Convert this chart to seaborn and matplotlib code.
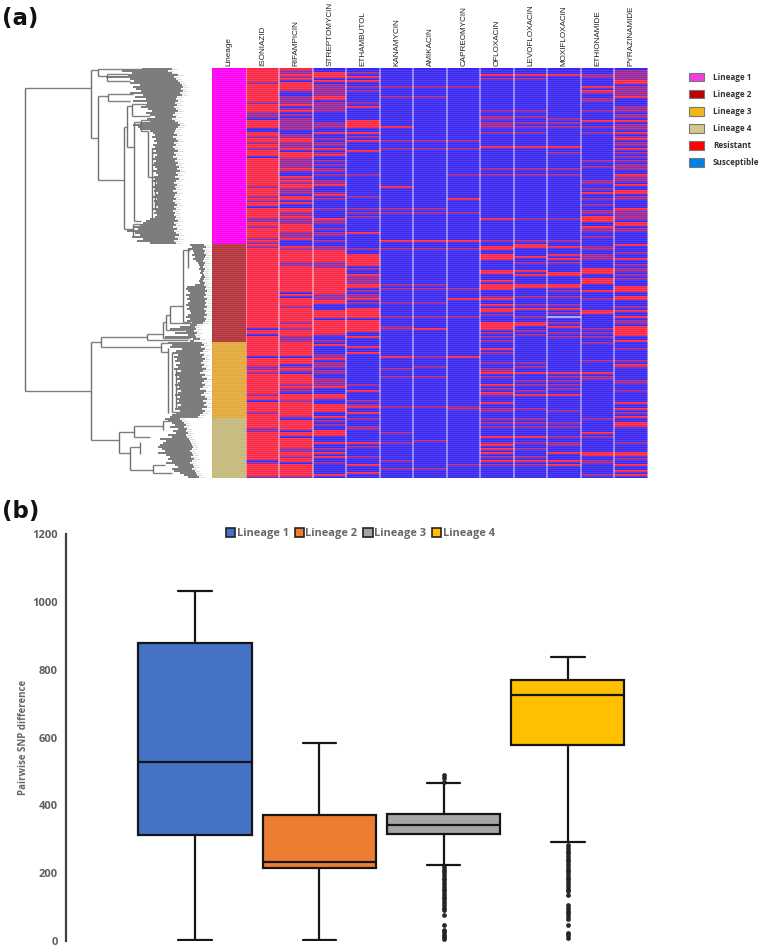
import numpy as np
import pandas as pd
import matplotlib
matplotlib.use("Agg")
import matplotlib.pyplot as plt
from matplotlib.colors import ListedColormap, LinearSegmentedColormap
from matplotlib.patches import Patch
import seaborn as sns

sns.set_theme(style="white")

FIG_W, FIG_H = 760, 947
N_ROWS = 205

drugs = ["ISONIAZID", "RIFAMPICIN", "STREPTOMYCIN", "ETHAMBUTOL", "KANAMYCIN", "AMIKACIN",
         "CAPREOMYCIN", "OFLOXACIN", "LEVOFLOXACIN", "MOXIFLOXACIN", "ETHIONAMIDE", "PYRAZINAMIDE"]

# rows per lineage, top to bottom
lineage_rows = [88, 49, 38, 30]

# mostly resistant drugs: rows clearly susceptible / rows blended
iso_sus = [25, 30, 31, 44, 69, 130, 133, 144, 166, 196]
iso_mix = [7, 17, 22, 23, 24, 34, 37, 40, 59, 64, 66, 75, 76, 79, 85, 87, 89, 149, 150, 152, 163, 172, 180, 181, 197, 204]
rif_sus = [6, 12, 13, 19, 22, 24, 31, 32, 41, 52, 53, 63, 66, 68, 69, 86, 87, 88, 112, 114, 144, 148, 152, 162, 175, 181, 184, 197]
rif_mix = [1, 2, 4, 11, 14, 15, 16, 17, 20, 23, 25, 26, 27, 28, 29, 30, 33, 34, 37, 38, 39, 45, 46, 47, 48, 49, 51, 55, 57, 60, 61, 62,
           72, 73, 75, 76, 77, 82, 83, 84, 90, 97, 98, 119, 127, 130, 134, 135, 136, 149, 151, 158, 160, 161, 166, 174, 190, 191, 194, 204]

# mostly susceptible drugs: rows clearly resistant / rows blended
str_res = [2, 3, 4, 6, 14, 15, 32, 40, 43, 58, 63, 75, 91, 92, 93, 94, 95, 96, 100, 101, 102, 103, 104, 105, 106, 107, 108, 109, 110, 111, 112,
           116, 117, 121, 122, 123, 124, 126, 127, 128, 129, 130, 131, 132, 138, 145, 159, 163, 164, 168, 169, 170, 171, 174, 181, 182, 183, 187, 192, 194, 203]
str_mix = [8, 9, 10, 11, 12, 13, 17, 18, 19, 20, 21, 27, 28, 29, 35, 37, 38, 42, 46, 48, 50, 51, 53, 56, 57, 62, 65, 70, 76, 77, 80, 82, 83, 86, 89, 90,
           97, 98, 99, 113, 114, 115, 133, 136, 143, 144, 147, 148, 149, 151, 152, 155, 156, 157, 158, 165, 176, 178, 190, 197]
emb_res = [4, 6, 19, 26, 27, 28, 29, 32, 36, 41, 82, 93, 94, 95, 96, 97, 98, 103, 108, 109, 115, 120, 121, 122, 123, 124, 126, 127, 128, 129, 130, 131, 134,
           139, 142, 161, 169, 172, 187, 198, 202]
emb_mix = [2, 9, 11, 17, 34, 53, 64, 70, 72, 74, 90, 100, 104, 105, 106, 107, 111, 113, 114, 117, 158, 166, 168, 175, 179, 180, 189, 194]
kan_res = [29, 59, 86, 144]
kan_mix = [9, 14, 36, 40, 70, 72, 90, 108, 110, 117, 124, 129, 130, 150, 154, 169, 182, 187, 196, 200]
ami_res = [86, 130]
ami_mix = [9, 14, 36, 40, 70, 72, 90, 108, 110, 117, 124, 144, 149, 154, 169, 186, 200]
cap_res = [65, 86, 115, 144]
cap_mix = [9, 36, 40, 53, 72, 90, 110, 124, 169, 170, 198]
ofl_res = [3, 39, 75, 89, 90, 93, 94, 95, 101, 102, 106, 108, 109, 110, 115, 118, 120, 121, 127, 128, 129, 130, 140, 152, 158, 162, 167, 184, 188, 190, 192, 196]
ofl_mix = [5, 21, 24, 25, 27, 28, 29, 32, 50, 53, 86, 114, 123, 132, 134, 136, 142, 147, 150, 151, 154, 160, 163, 170, 171, 175, 177, 179, 187, 194, 198]
lev_res = [3, 39, 88, 89, 94, 101, 103, 108, 109, 120, 127, 128, 152, 163, 184, 196]
lev_mix = [5, 21, 24, 27, 29, 32, 50, 53, 75, 86, 97, 114, 118, 124, 131, 133, 147, 149, 156, 158, 161, 170, 175, 177, 179, 187, 190, 194, 198]
mox_res = [3, 39, 89, 93, 95, 102, 103, 108, 109, 120, 129, 152, 163, 192, 196, 198]
mox_mix = [25, 27, 29, 42, 50, 53, 75, 86, 97, 111, 114, 118, 122, 127, 132, 134, 154, 156, 158, 160, 171, 177, 179, 184, 187, 188]
mox_untested = [124]
eto_res = [9, 11, 26, 62, 74, 75, 76, 79, 100, 101, 102, 105, 106, 107, 111, 121, 122, 152, 182, 192, 193]
eto_mix = [3, 4, 12, 15, 16, 21, 29, 32, 46, 49, 56, 57, 60, 65, 68, 71, 72, 80, 81, 84, 89, 90, 93, 94, 95, 115, 130, 132, 134, 137, 146, 154, 155, 175, 184, 196, 197, 203]
pza_res = [6, 7, 14, 26, 32, 35, 40, 53, 58, 61, 62, 70, 77, 78, 88, 95, 109, 110, 111, 114, 115, 121, 124, 129, 130, 131, 132, 133, 136, 148, 167, 170, 174, 177, 178,
           192, 193, 198, 201, 203]
pza_mix = [1, 2, 3, 4, 5, 9, 10, 11, 12, 13, 19, 20, 21, 23, 24, 28, 29, 30, 34, 37, 38, 42, 44, 46, 48, 49, 50, 54, 55, 56, 64, 65, 71, 72, 73, 74, 75, 80, 81, 92, 98,
           100, 101, 103, 105, 119, 126, 127, 140, 146, 149, 156, 157, 161, 172, 179, 187, 195]

# tree: horizontal branches (depth from, depth to, row), vertical branches (depth, row from, row to)
h_branches = [(25, 91, 10), (25, 91, 161.3), (91, 98, 1), (98, 142, 0.5), (98, 106.7, 3.8), (106.7, 128, 3), (106.7, 130, 6.3),
              (91, 98, 35), (98, 107.7, 14), (107.7, 133, 13), (107.7, 130, 16.7), (98, 124.3, 55.8), (124.3, 126.7, 29.7),
              (126.7, 131.7, 19), (131.7, 146, 18), (131.7, 150, 24), (126.7, 134, 39.7), (134, 141, 27), (141, 150, 26), (141, 148.3, 31.5),
              (134, 141, 76.3), (148.3, 155, 54.6), (124.3, 133, 80.5), (133, 140, 78), (133, 136, 84),
              (91, 100.7, 137), (91, 119, 185.8), (100.7, 147, 134.5), (100.7, 160.7, 139.3), (147, 163, 133), (147, 188, 136),
              (163, 165.7, 126.8), (163, 190, 135), (165.7, 170, 123.5), (165.7, 185, 131), (170, 182.7, 118.8), (170, 192, 127.5),
              (182.7, 190, 91), (182.7, 190, 126.8), (160.7, 168.3, 137.3), (160.7, 168.3, 141.8), (172, 190, 172),
              (119, 134, 181.8), (119, 130, 192.5), (134, 163, 179), (134, 150, 184.3), (163, 170, 176.3), (130, 140, 189.3), (130, 153, 200.7),
              (153, 165, 198.5), (153, 172, 202.5)]
v_branches = [(25, 10, 161.3), (91, 1, 35), (98, 0.5, 3.8), (106.7, 3, 6.3), (98, 14, 55.8), (107.7, 13, 16.7), (124.3, 29.7, 80.5),
              (126.7, 19, 39.7), (131.7, 18, 24), (134, 27, 76.3), (141, 26, 31.5), (148.3, 31.5, 54.6), (152, 40, 75), (155, 54.6, 71), (133, 78, 84),
              (91, 137, 185.8), (100.7, 134.5, 139.3), (147, 133, 136), (163, 126.8, 135), (165.7, 123.5, 131), (170, 118.8, 127.5), (182.7, 91, 126.8),
              (188, 90, 100), (160.7, 137.3, 141.8), (168.3, 140, 172.5), (172, 142, 172), (176, 150, 170),
              (119, 181.8, 192.5), (134, 179, 184.3), (163, 176.3, 181), (130, 189.3, 200.7), (140, 187, 193), (153, 198.5, 202.5)]

tip_start = [142, 122, 132, 128, 106, 130, 134, 130, 140, 133, 136, 141, 130, 143, 135, 146, 133, 147, 146, 141,
             148, 152, 146, 150, 155, 147, 150, 140, 133, 138, 140, 150, 153, 155, 152, 156, 154, 157, 153, 155,
             152, 156, 153, 157, 155, 152, 156, 154, 152, 155, 157, 153, 156, 158, 154, 155, 152, 157, 155, 153,
             156, 154, 158, 155, 153, 157, 154, 156, 155, 158, 153, 156, 154, 157, 155, 150, 146, 143, 140, 133,
             138, 127, 135, 140, 132, 143, 137, 150,
             190, 192, 188, 193, 194, 192, 195, 193, 196, 198, 199, 200, 199, 201, 200, 202, 201, 200, 199, 200,
             195, 187, 186, 188, 190, 186, 189, 187, 190, 188, 186, 189, 187, 190, 191, 188, 186, 190, 187, 192,
             190, 180, 170, 186, 175, 188, 165, 193, 190,
             168, 172, 170, 182, 176, 173, 178, 174, 177, 175, 180, 176, 178, 174, 181, 177, 175, 179, 176, 180,
             178, 175, 179, 176, 181, 178, 175, 180, 177, 179, 176, 181, 178, 175, 180, 176, 172, 170,
             165, 168, 172, 175, 170, 178, 173, 176, 168, 172, 160, 166, 163, 160, 158, 162, 165, 158, 166, 170,
             168, 172, 166, 175, 178, 172, 174, 180, 184, 188]
tip_end = [172, 168, 172, 178, 174, 176, 178, 180, 182, 183, 181, 183, 180, 182, 177, 176, 178, 175, 177, 174,
           176, 178, 175, 173, 176, 172, 175, 178, 180, 178, 176, 175, 174, 177, 173, 176, 178, 174, 176, 173,
           175, 178, 174, 176, 173, 177, 175, 178, 176, 179, 177, 180, 176, 178, 175, 179, 176, 174, 177, 175,
           176, 173, 177, 175, 174, 176, 173, 175, 177, 174, 176, 173, 175, 174, 176, 175, 178, 174, 176, 173,
           177, 174, 176, 179, 175, 178, 174, 176,
           204, 206, 203, 205, 204, 206, 205, 204, 203, 205, 204, 203, 205, 204, 203, 204, 205, 204, 203, 205,
           204, 206, 205, 207, 205, 206, 204, 207, 205, 206, 205, 207, 204, 206, 205, 207, 204, 206, 205, 203,
           197, 195, 196, 194, 197, 195, 196, 200, 194,
           202, 204, 201, 205, 203, 200, 204, 202, 205, 203, 201, 204, 202, 206, 203, 200, 205, 202, 207, 204,
           202, 205, 203, 200, 206, 204, 201, 205, 207, 203, 206, 204, 207, 202, 205, 203, 200, 198,
           180, 182, 184, 186, 184, 187, 186, 188, 186, 187, 189, 190, 191, 192, 193, 192, 190, 192, 193, 191,
           194, 192, 190, 193, 194, 192, 195, 196, 197, 199]

# panel b
lineages = ["Lineage 1", "Lineage 2", "Lineage 3", "Lineage 4"]
box_l1 = [2, 313, 527, 879, 1032]
box_l2 = [2, 215, 231, 371, 583]
box_l3 = [223, 315, 342, 375, 467]
box_l4 = [292, 579, 725, 770, 838]
out_l3 = [490, 480, 470, 218, 210, 202, 194, 186, 178, 170, 162, 154, 146, 138, 130, 122, 114, 106, 98, 90, 76, 46, 32, 25, 18, 11, 4]
out_l4 = [282, 274, 266, 258, 250, 242, 234, 226, 218, 210, 202, 194, 186, 178, 170, 162, 154, 146, 135, 105, 97, 89, 81, 73, 65, 46, 23, 16, 8]

box_colors = ["#4472C4", "#ED7D31", "#A5A5A5", "#FFC000"]
lineage_colors = ["#FF00F5", "#B4323C", "#E2A83A", "#C4B87A"]
legend_a_labels = ["Lineage 1", "Lineage 2", "Lineage 3", "Lineage 4", "Resistant", "Susceptible"]
legend_a_colors = ["#F040E0", "#C00000", "#F0B818", "#D6C88A", "#FF0000", "#0080E8"]


def rect(l, t, r, b):
    return [l / FIG_W, 1 - b / FIG_H, (r - l) / FIG_W, (b - t) / FIG_H]


def column(base, flipped, mixed):
    vals = np.full(N_ROWS, float(base))
    vals[mixed] = 0.5
    vals[flipped] = 1.0 - base
    return vals


matrix = np.column_stack([
    column(1, iso_sus, iso_mix), column(1, rif_sus, rif_mix), column(0, str_res, str_mix), column(0, emb_res, emb_mix),
    column(0, kan_res, kan_mix), column(0, ami_res, ami_mix), column(0, cap_res, cap_mix), column(0, ofl_res, ofl_mix),
    column(0, lev_res, lev_mix), column(0, mox_res, mox_mix), column(0, eto_res, eto_mix), column(0, pza_res, pza_mix)])
matrix[mox_untested, 9] = np.nan
lineage_col = np.repeat(np.arange(4), lineage_rows).reshape(-1, 1)

fig = plt.figure(figsize=(FIG_W / 100, FIG_H / 100), dpi=100, facecolor="white")
LAB_FONT = ["Liberation Sans", "DejaVu Sans"]
BOLD_FONT = ["Open Sans", "DejaVu Sans"]

# tree
ax_tree = fig.add_axes(rect(0, 68, 212.3, 478.5))
ax_tree.set_xlim(0, 212.3)
ax_tree.set_ylim(N_ROWS, 0)
ax_tree.axis("off")
rows_mid = np.arange(N_ROWS) + 0.5
ax_tree.hlines(rows_mid, np.array(tip_end), np.array(tip_end) + 5, color="#dcdcdc", lw=0.7)
ax_tree.hlines(rows_mid, tip_start, tip_end, color="#5c5c5c", lw=1.15)
for x0, x1, r in h_branches:
    ax_tree.hlines(r, x0, x1, color="#808080", lw=1.0)
for x, r0, r1 in v_branches:
    ax_tree.vlines(x, r0, r1, color="#707070", lw=1.0)

# lineage strip
ax_lin = fig.add_axes(rect(212.3, 68, 245.8, 478.5))
sns.heatmap(lineage_col, ax=ax_lin, cmap=ListedColormap(lineage_colors), vmin=-0.5, vmax=3.5, cbar=False,
            xticklabels=["Lineage"], yticklabels=False)

# resistance matrix
ax_heat = fig.add_axes(rect(245.8, 68, 648, 478.5))
rb = LinearSegmentedColormap.from_list("rb", ["#3A28F0", "#FA2846"])
ax_heat.set_facecolor("#A8A4E4")
sns.heatmap(matrix, ax=ax_heat, cmap=rb, vmin=0, vmax=1, cbar=False, xticklabels=drugs, yticklabels=False)

for ax in (ax_lin, ax_heat):
    ax.xaxis.tick_top()
    ax.tick_params(axis="x", length=0, pad=1.5, rotation=90)
    for lab in ax.get_xticklabels():
        lab.set_family(LAB_FONT)
        lab.set_fontsize(5.85)
        lab.set_color("#222222")
    ax.hlines(np.arange(1, N_ROWS), *ax.get_xlim(), color="white", alpha=0.14, lw=0.6)
ax_heat.vlines(np.arange(0, 13), 0, N_ROWS, color="white", alpha=0.55, lw=1.1)

# legend of panel a
handles = [Patch(facecolor=c, edgecolor="#777777", lw=0.8, label=l) for c, l in zip(legend_a_colors, legend_a_labels)]
fig.legend(handles=handles, loc="upper left", bbox_to_anchor=(687 / FIG_W, 1 - 71 / FIG_H), frameon=False,
           prop={"family": BOLD_FONT, "weight": "bold", "size": 5.9}, labelcolor="#333333",
           handlelength=1.9, handleheight=1.25, handletextpad=1.05, labelspacing=0.98, borderaxespad=0, borderpad=0.2)

# panel b
ax_box = fig.add_axes(rect(66, 534.3, 740, 940.7))
box_df = pd.DataFrame({
    "lineage": np.repeat(lineages, 5),
    "snp": box_l1 + box_l2 + box_l3 + box_l4})
out_df = pd.DataFrame({
    "lineage": ["Lineage 3"] * len(out_l3) + ["Lineage 4"] * len(out_l4),
    "snp": out_l3 + out_l4})
sns.boxplot(data=box_df, x="lineage", y="snp", hue="lineage", order=lineages, hue_order=lineages, palette=box_colors,
            saturation=1, whis=(0, 100), width=0.91, linecolor="#161616", linewidth=1.6, capwidths=0.27,
            ax=ax_box, legend=False, dodge=False)
sns.stripplot(data=out_df, x="lineage", y="snp", order=lineages, jitter=False, color="#2a2a2a", size=2.9, ax=ax_box,
              edgecolor="#111111", linewidth=0.4)
ax_box.set_xlim(-1.038, 4.385)
ax_box.set_ylim(0, 1200)
ax_box.set_yticks(np.arange(0, 1201, 200))
ax_box.set_xticks([])
ax_box.set_xlabel("")
ax_box.set_ylabel("Pairwise SNP difference", family=BOLD_FONT, weight="bold", fontsize=7.0, color="#666666", labelpad=2.5)
ax_box.tick_params(axis="y", length=0, pad=6, labelsize=8)
for lab in ax_box.get_yticklabels():
    lab.set_family(BOLD_FONT)
    lab.set_weight("bold")
    lab.set_color("#5f5f5f")
for s in ("top", "right", "bottom"):
    ax_box.spines[s].set_visible(False)
ax_box.spines["left"].set_color("#404040")
ax_box.spines["left"].set_linewidth(1.6)

hb = [Patch(facecolor=c, edgecolor="#222222", lw=1.2, label=l) for c, l in zip(box_colors, lineages)]
fig.legend(handles=hb, loc="center left", bbox_to_anchor=(226 / FIG_W, 1 - 533.5 / FIG_H), ncol=4, frameon=False,
           prop={"family": BOLD_FONT, "weight": "bold", "size": 7.9}, labelcolor="#666666",
           handlelength=0.85, handleheight=0.85, handletextpad=0.12, columnspacing=0.55, borderaxespad=0, borderpad=0)

fig.text(2 / FIG_W, 1 - 25 / FIG_H, "(a)", fontsize=16.5, weight="bold", family="DejaVu Sans", color="#111111")
fig.text(2 / FIG_W, 1 - 518 / FIG_H, "(b)", fontsize=16.5, weight="bold", family="DejaVu Sans", color="#111111")

fig.savefig("out.png", dpi=100, facecolor="white")
